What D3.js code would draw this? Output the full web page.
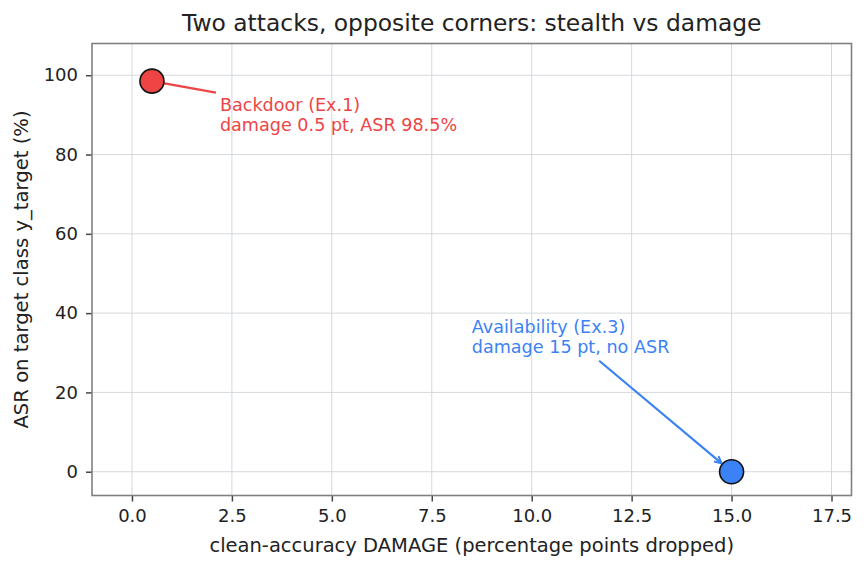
<!DOCTYPE html>
<html><head><meta charset="utf-8">
<script src="https://cdn.jsdelivr.net/npm/d3@7/dist/d3.min.js"></script>
<style>
html,body{margin:0;padding:0;background:#fff;}
svg{display:block;font-family:"DejaVu Sans",sans-serif;}
</style></head>
<body><svg id="chart" width="867" height="569"></svg>
<script>
// ---- data ----
const attackNames = ["Backdoor (Ex.1)", "Availability (Ex.3)"];
const damage = [0.5, 15];          // clean-accuracy damage (pp)
const asr = [98.5, 0];             // ASR on target class (%)
const noteLine2 = ["damage 0.5 pt, ASR 98.5%", "damage 15 pt, no ASR"];
const noteX = [2.2, 8.5];          // annotation text anchor (data units)
const noteY = [86, 30];
const colors = ["#ef4444", "#3b82f6"];
const xTicks = [0, 2.5, 5, 7.5, 10, 12.5, 15, 17.5];
const yTicks = [0, 20, 40, 60, 80, 100];
const xDomain = [-1, 18];
const yDomain = [-6, 108];
const titleText = "Two attacks, opposite corners: stealth vs damage";
const xLabel = "clean-accuracy DAMAGE (percentage points dropped)";
const yLabel = "ASR on target class y_target (%)";

// ---- layout ----
const svg = d3.select("#chart");
const L = 92, R = 851.5, T = 43.5, B = 495.5;
const x = d3.scaleLinear().domain(xDomain).range([L, R]);
const y = d3.scaleLinear().domain(yDomain).range([B, T]);
const textColor = "#222";

// grid
const g = svg.append("g");
g.selectAll("line.gx").data(xTicks).join("line")
  .attr("x1", d => x(d)).attr("x2", d => x(d)).attr("y1", T).attr("y2", B)
  .attr("stroke", "#d4d9de").attr("stroke-width", 1);
g.selectAll("line.gy").data(yTicks).join("line")
  .attr("x1", L).attr("x2", R).attr("y1", d => y(d)).attr("y2", d => y(d))
  .attr("stroke", "#d4d9de").attr("stroke-width", 1);

// axes
const xAxis = d3.axisBottom(x).tickValues(xTicks).tickFormat(d3.format(".1f")).tickSize(6).tickPadding(8);
const yAxis = d3.axisLeft(y).tickValues(yTicks).tickFormat(d3.format("d")).tickSize(6).tickPadding(8);
const gx = svg.append("g").attr("transform", `translate(0,${B})`).call(xAxis);
const gy = svg.append("g").attr("transform", `translate(${L},0)`).call(yAxis);
[gx, gy].forEach(a => {
  a.select(".domain").remove();
  a.selectAll(".tick line").attr("stroke", "#444").attr("stroke-width", 1.5);
  a.selectAll(".tick text").attr("fill", textColor).style("font-size", "18px").style("font-family", "DejaVu Sans");
});

// spines
svg.append("rect").attr("x", L).attr("y", T).attr("width", R - L).attr("height", B - T)
  .attr("fill", "none").attr("stroke", "#808080").attr("stroke-width", 1.6);

// title and labels
svg.append("text").attr("x", (L + R) / 2).attr("y", 31).attr("text-anchor", "middle")
  .attr("fill", textColor).style("font-size", "23.4px").text(titleText);
svg.append("text").attr("x", (L + R) / 2).attr("y", 552).attr("text-anchor", "middle")
  .attr("fill", textColor).style("font-size", "19.5px").text(xLabel);
svg.append("text").attr("transform", `translate(28,${(T + B) / 2}) rotate(-90)`)
  .attr("text-anchor", "middle").attr("fill", textColor).style("font-size", "19.6px").text(yLabel);

// annotations
const lineGap = 20;
const annG = svg.append("g");
const pts = damage.map((d, i) => ({ i, px: x(d), py: y(asr[i]) }));
pts.forEach(p => {
  const i = p.i;
  const t = annG.append("text").attr("fill", colors[i]).style("font-size", "17.6px");
  t.append("tspan").attr("x", x(noteX[i])).attr("y", y(noteY[i]) - lineGap).text(attackNames[i]);
  t.append("tspan").attr("x", x(noteX[i])).attr("y", y(noteY[i])).text(noteLine2[i]);
  const bb = t.node().getBBox();
  const pad = 4;
  const bx0 = bb.x - pad, bx1 = bb.x + bb.width + pad, by0 = bb.y - pad, by1 = bb.y + bb.height + pad;
  const cx = (bx0 + bx1) / 2, cy = (by0 + by1) / 2;
  const dx = cx - p.px, dy = cy - p.py;
  let tHit = 1;
  const cands = [];
  if (dx !== 0) { cands.push((bx0 - p.px) / dx, (bx1 - p.px) / dx); }
  if (dy !== 0) { cands.push((by0 - p.py) / dy, (by1 - p.py) / dy); }
  cands.forEach(tt => {
    if (tt > 0 && tt < 1) {
      const qx = p.px + tt * dx, qy = p.py + tt * dy;
      if (qx >= bx0 - 0.01 && qx <= bx1 + 0.01 && qy >= by0 - 0.01 && qy <= by1 + 0.01) tHit = Math.min(tHit, tt);
    }
  });
  const ex = p.px + tHit * dx, ey = p.py + tHit * dy;
  if (i === 0) {
    annG.append("line").attr("x1", p.px).attr("y1", p.py).attr("x2", ex).attr("y2", ey)
      .attr("stroke", colors[i]).attr("stroke-width", 2.4);
  } else {
    const len = Math.hypot(ex - p.px, ey - p.py);
    const ux = (p.px - ex) / len, uy = (p.py - ey) / len;
    const shrink = 13;
    const tx = p.px - ux * shrink, ty = p.py - uy * shrink;
    annG.append("line").attr("x1", ex).attr("y1", ey).attr("x2", tx).attr("y2", ty)
      .attr("stroke", colors[i]).attr("stroke-width", 2.2);
    const hl = 7, hw = 3.5;
    const bxh = tx - ux * hl, byh = ty - uy * hl;
    annG.append("path")
      .attr("d", `M${bxh - uy * hw},${byh + ux * hw} L${tx},${ty} L${bxh + uy * hw},${byh - ux * hw}`)
      .attr("fill", "none").attr("stroke", colors[i]).attr("stroke-width", 2);
  }
});

// points
svg.append("g").selectAll("circle").data(pts).join("circle")
  .attr("cx", d => d.px).attr("cy", d => d.py).attr("r", 12)
  .attr("fill", d => colors[d.i]).attr("stroke", "#111").attr("stroke-width", 1.6);
</script></body></html>
